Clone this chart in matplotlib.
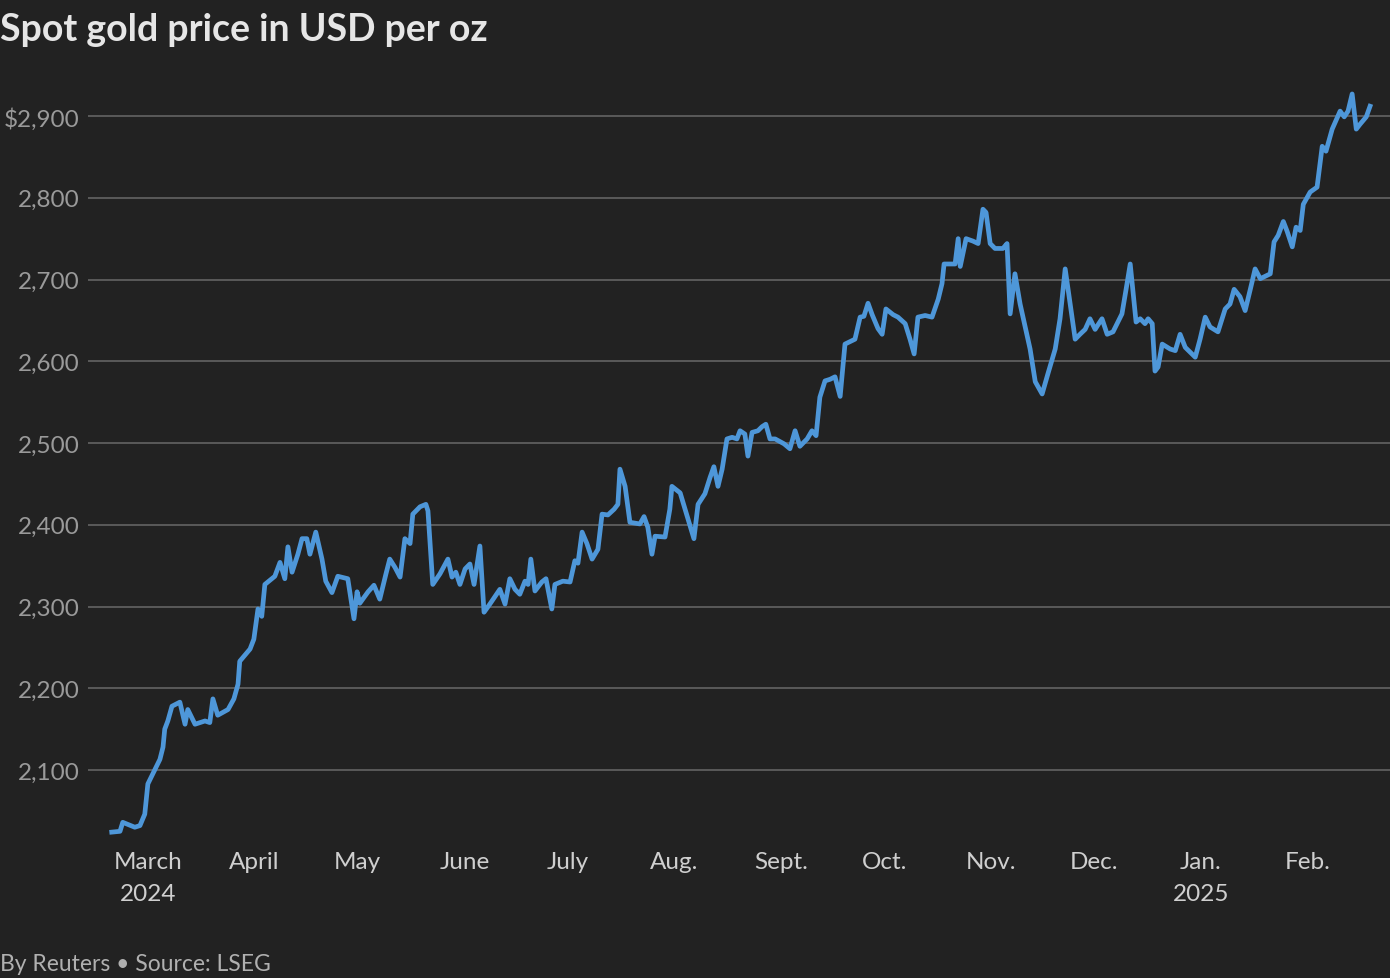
import datetime as dt
import matplotlib
matplotlib.use("Agg")
import matplotlib.pyplot as plt
from matplotlib.ticker import FuncFormatter

title = "Spot gold price in USD per oz"
source = "By Reuters \u2022 Source: LSEG"

# days since 2024-03-01
days = [-10.5,-8.1,-7.3,-3.8,-2.3,-0.9,0,3.5,4.4,4.9,5.8,7.0,9.3,10.8,11.6,13.7,16.6,18.0,18.9,20.3,
        23.3,25.0,26.2,26.7,29.7,30.8,32.0,33.1,34.0,36.9,38.4,39.8,40.7,41.9,43.6,44.8,46.2,47.1,48.8,50.6,
        51.7,53.5,55.2,58.1,59.9,60.8,61.6,64.0,65.7,67.4,69.2,70.3,71.8,73.3,74.7,76.2,77.0,79.1,80.8,81.4,
        82.8,84.9,87.2,88.4,89.5,90.7,92.2,93.6,94.8,96.5,97.7,99.4,102.3,103.8,105.2,106.7,108.1,109.6,110.5,111.3,
        112.5,114.5,115.7,117.4,118.3,120.6,122.7,124.1,125.0,126.2,127.6,129.1,130.8,132.0,133.7,135.5,136.6,137.2,138.7,140.1,
        143.0,144.2,145.3,146.5,147.4,150.3,151.7,152.3,154.7,157.0,158.7,159.9,161.9,163.4,164.5,165.7,166.9,168.3,169.8,171.2,
        172.1,173.5,174.4,175.6,177.3,178.5,179.6,180.8,182.3,184.9,186.6,188.1,189.5,191.6,193.0,194.2,195.3,196.8,198.3,199.7,
        201.2,202.6,205.5,207.0,208.1,209.3,210.5,212.2,213.4,214.5,216.6,218.0,220.1,221.5,222.7,223.8,225.9,227.9,229.7,230.8,
        231.4,234.6,235.5,236.1,237.8,239.8,241.3,242.7,243.6,244.8,246.2,248.5,249.7,250.6,252.0,253.5,256.4,257.9,259.9,261.6,
        263.7,265.1,266.6,269.5,270.9,272.4,273.8,275.3,276.2,277.3,278.8,280.5,283.1,284.3,285.5,287.2,288.4,289.8,290.7,291.9,
        292.7,293.6,294.8,297.1,298.6,300.0,301.5,304.4,305.8,307.3,308.7,311.0,313.1,314.5,315.7,317.4,318.9,320.4,321.8,323.3,
        326.2,327.3,328.5,330.0,331.1,332.6,333.7,334.9,335.8,337.8,339.8,341.3,342.4,344.2,346.5,347.7,348.8,350.0,351.2,352.3,
        354.1,355.2]
prices = [2024,2025,2036,2030,2032,2046,2083,2113,2128,2150,2160,2178,2183,2156,2174,2156,2160,2158,2187,2167,
          2174,2187,2205,2233,2248,2260,2297,2288,2327,2337,2354,2334,2373,2342,2364,2383,2383,2364,2391,2358,
          2331,2317,2337,2334,2285,2318,2304,2318,2326,2309,2340,2358,2348,2336,2383,2377,2413,2422,2425,2417,
          2327,2340,2358,2336,2342,2327,2346,2352,2327,2374,2293,2303,2321,2303,2334,2321,2315,2331,2327,2358,
          2319,2330,2334,2297,2327,2331,2330,2356,2353,2391,2377,2358,2370,2413,2412,2419,2425,2468,2447,2403,
          2401,2410,2397,2364,2386,2385,2419,2447,2439,2407,2383,2425,2438,2458,2471,2447,2468,2505,2507,2505,
          2515,2511,2484,2513,2515,2520,2523,2505,2505,2499,2493,2515,2496,2505,2515,2509,2556,2576,2578,2581,
          2557,2621,2627,2654,2655,2671,2657,2640,2633,2664,2657,2654,2646,2627,2609,2654,2656,2654,2676,2695,
          2719,2719,2750,2716,2750,2747,2744,2786,2782,2744,2738,2738,2744,2658,2707,2670,2615,2575,2560,2585,
          2615,2652,2713,2627,2633,2639,2652,2639,2645,2652,2633,2636,2658,2688,2719,2648,2652,2646,2652,2646,
          2588,2593,2621,2615,2613,2633,2617,2605,2627,2654,2642,2636,2664,2670,2688,2679,2662,2688,2713,2701,
          2707,2746,2754,2771,2759,2740,2764,2760,2792,2807,2813,2863,2857,2884,2906,2899,2906,2927,2884,2890,
          2899,2912]

yticks = [2100, 2200, 2300, 2400, 2500, 2600, 2700, 2800, 2900]
month_labels = ["March\n2024", "April", "May", "June", "July", "Aug.", "Sept.", "Oct.",
                "Nov.", "Dec.", "Jan.\n2025", "Feb."]

BG = "#222222"
FONT = "Lato"
base = dt.datetime(2024, 3, 1)
dates = [base + dt.timedelta(days=d) for d in days]
month_ticks = [dt.datetime(2024 + (2 + i) // 12, (2 + i) % 12 + 1, 1) for i in range(12)]

fig = plt.figure(figsize=(13.9, 9.79), dpi=100, facecolor=BG)
ax = fig.add_axes([88 / 1390, 1 - 840 / 979, 1 - 88 / 1390, 760 / 979], facecolor=BG)
ax.plot(dates, prices, color="#4e97d9", lw=3.4, solid_joinstyle="round", zorder=3)

ax.set_ylim(2015.6, 2945.3)
ax.set_xlim(base + dt.timedelta(days=-17.4), base + dt.timedelta(days=361.0))
ax.set_yticks(yticks)
ax.yaxis.set_major_formatter(FuncFormatter(lambda v, p: ("$" if v == 2900 else "") + f"{int(v):,}"))
ax.set_xticks(month_ticks)
ax.set_xticklabels(month_labels)
ax.grid(axis="y", color="#5a5a5a", lw=1.4)
ax.tick_params(axis="y", length=0, pad=6, labelsize=17.5, labelcolor="#9a9a9a")
ax.tick_params(axis="x", length=0, pad=9, labelsize=17.5, labelcolor="#cfcfcf")
for lab in ax.get_xticklabels() + ax.get_yticklabels():
    lab.set_fontfamily(FONT)
for lab in ax.get_xticklabels():
    lab.set_linespacing(1.6)
for s in ax.spines.values():
    s.set_visible(False)

fig.text(0.0, 1 - 30 / 979, title, fontsize=27, fontweight="bold", color="#e6e6e6",
         fontfamily=FONT, va="center", ha="left")
fig.text(0.0, 1 - 965 / 979, source, fontsize=16.5, color="#b0b0b0",
         fontfamily=FONT, va="center", ha="left")

fig.savefig("out.png", dpi=100, facecolor=BG)
